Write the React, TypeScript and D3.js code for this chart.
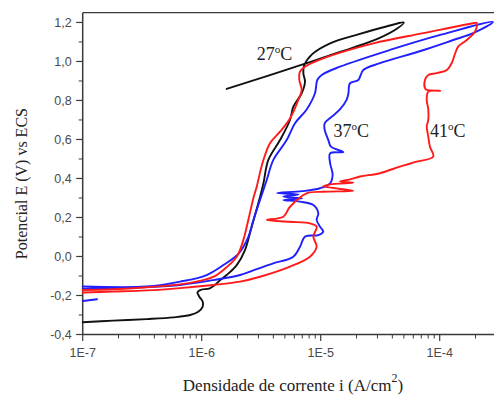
import React from "react";
import * as d3 from "d3";

const width = 494;
const height = 396;
const plot = { left: 82.7, top: 12.7, bottom: 334.5 };
const decadePx = 119;

// axis ticks
const xMajor = [1e-7, 1e-6, 1e-5, 1e-4];
const xLabels = ["1E-7", "1E-6", "1E-5", "1E-4"];
const yMajor = [-0.4, -0.2, 0, 0.2, 0.4, 0.6, 0.8, 1.0, 1.2];
const yLabels = ["-0,4", "-0,2", "0,0", "0,2", "0,4", "0,6", "0,8", "1,0", "1,2"];

// [i (A/cm2), E (V)]
const curve27: [number, number][] = [
  [1.0e-7, -0.337], [1.8e-7, -0.329], [3.45e-7, -0.321], [5.8e-7, -0.312],
  [8.0e-7, -0.3], [9.35e-7, -0.283], [1.02e-6, -0.257], [1.02e-6, -0.232],
  [9.55e-7, -0.206], [9.2e-7, -0.184], [9.7e-7, -0.172], [1.17e-6, -0.163],
  [1.29e-6, -0.146], [1.43e-6, -0.121], [1.62e-6, -0.095], [1.97e-6, -0.044],
  [2.31e-6, 0.033], [2.63e-6, 0.153], [2.99e-6, 0.273], [3.3e-6, 0.375],
  [3.63e-6, 0.495], [4.55e-6, 0.597], [5.52e-6, 0.7], [5.89e-6, 0.768],
  [6.92e-6, 0.837], [7.38e-6, 0.896], [7.15e-6, 0.939], [7.24e-6, 0.977],
  [8.4e-6, 1.035], [1.2e-5, 1.093], [2.1e-5, 1.14], [3.5e-5, 1.178],
  [5.0e-5, 1.2], [4.36e-5, 1.168], [3.1e-5, 1.12], [1.9e-5, 1.072],
  [1.16e-5, 1.029], [7.62e-6, 0.991], [1.62e-6, 0.859],
];

const curve37: [number, number][] = [
  [1.0e-7, -0.154], [3.45e-7, -0.154], [6.6e-7, -0.129], [1.1e-6, -0.095],
  [1.52e-6, -0.044], [2.05e-6, 0.016], [2.47e-6, 0.102], [2.72e-6, 0.187],
  [3.09e-6, 0.29], [3.52e-6, 0.392], [4.0e-6, 0.495], [5.18e-6, 0.597],
  [6.08e-6, 0.683], [7.62e-6, 0.754], [8.95e-6, 0.837], [9.36e-6, 0.905],
  [1.02e-5, 0.931], [1.45e-5, 0.973], [3.82e-5, 1.059], [1.01e-4, 1.136],
  [2.8e-4, 1.203], [1.91e-4, 1.145], [1.3e-4, 1.11], [7.0e-5, 1.055],
  [3.15e-5, 0.991], [2.28e-5, 0.956], [2.07e-5, 0.905], [1.76e-5, 0.888],
  [1.71e-5, 0.837], [1.65e-5, 0.803], [1.45e-5, 0.754], [1.24e-5, 0.717],
  [1.08e-5, 0.683], [1.08e-5, 0.65], [1.16e-5, 0.597], [1.22e-5, 0.563],
  [1.55e-5, 0.535], [1.2e-5, 0.529], [1.2e-5, 0.478], [1.26e-5, 0.42],
  [1.2e-5, 0.375], [9.86e-6, 0.35], [7.0e-6, 0.335], [4.3e-6, 0.325],
  [6.5e-6, 0.318], [4.85e-6, 0.307], [7.0e-6, 0.298], [4.85e-6, 0.29],
  [6.7e-6, 0.281], [8.67e-6, 0.264], [9.55e-6, 0.222], [9.25e-6, 0.187],
  [9.86e-6, 0.153], [1.05e-5, 0.127], [9.55e-6, 0.11], [7.4e-6, 0.102],
  [6.7e-6, 0.05], [5.89e-6, -0.001], [4.0e-6, -0.035], [2.9e-6, -0.065],
  [2.1e-6, -0.095], [1.25e-6, -0.121], [6.6e-7, -0.146], [3.45e-7, -0.157],
  [1.8e-7, -0.162], [1.0e-7, -0.166],
];

const curve37Tail: [number, number][] = [
  [1.0e-7, -0.228], [1.32e-7, -0.219],
];

const curve41: [number, number][] = [
  [1.0e-7, -0.172], [1.8e-7, -0.168], [3.45e-7, -0.158], [6.6e-7, -0.143],
  [1.03e-6, -0.121], [1.25e-6, -0.105], [1.52e-6, -0.069], [1.97e-6, -0.001],
  [2.24e-6, 0.085], [2.47e-6, 0.19], [2.72e-6, 0.3], [2.9e-6, 0.358],
  [3.09e-6, 0.43], [3.3e-6, 0.495], [3.75e-6, 0.581], [4.55e-6, 0.64],
  [5.52e-6, 0.708], [6.49e-6, 0.803], [6.92e-6, 0.854], [6.61e-6, 0.905],
  [6.7e-6, 0.948], [7.38e-6, 0.973], [1.05e-5, 1.016], [2.77e-5, 1.093],
  [7.28e-5, 1.145], [1.91e-4, 1.196], [2.05e-4, 1.198], [1.98e-4, 1.153],
  [1.69e-4, 1.11], [1.43e-4, 1.076], [1.35e-4, 1.042], [1.26e-4, 0.991],
  [1.15e-4, 0.956], [9.44e-5, 0.94], [8.02e-5, 0.931], [7.52e-5, 0.905],
  [7.52e-5, 0.863], [7.78e-5, 0.854], [1.01e-4, 0.85], [8.02e-5, 0.845],
  [7.78e-5, 0.803], [8.02e-5, 0.754], [8.02e-5, 0.7], [7.78e-5, 0.666],
  [8.02e-5, 0.614], [8.28e-5, 0.563], [8.83e-5, 0.512], [6.41e-5, 0.486],
  [4.63e-5, 0.461], [3.15e-5, 0.427], [2.14e-5, 0.41], [1.76e-5, 0.395],
  [1.45e-5, 0.385], [1.88e-5, 0.378], [1.2e-5, 0.37], [1.05e-5, 0.36],
  [1.88e-5, 0.337], [1.05e-5, 0.332], [7.62e-6, 0.324], [5.52e-6, 0.255],
  [4.85e-6, 0.204], [3.52e-6, 0.187], [5.52e-6, 0.178], [8.13e-6, 0.17],
  [9.25e-6, 0.153], [8.67e-6, 0.102], [9.25e-6, 0.05], [8.13e-6, -0.001],
  [5.52e-6, -0.052], [3.09e-6, -0.104], [2.1e-6, -0.129], [1.25e-6, -0.146],
  [6.6e-7, -0.162], [3.45e-7, -0.174], [1.8e-7, -0.18], [1.0e-7, -0.185],
];

// curve labels, placed in data units
const curveLabels = [
  { temp: "27", i: 2.9e-6, e: 1.008 },
  { temp: "37", i: 1.28e-5, e: 0.614 },
  { temp: "41", i: 8.28e-5, e: 0.613 },
];

const x = d3
  .scaleLog()
  .domain([1e-7, Math.pow(10, -3.4)])
  .range([plot.left, plot.left + decadePx * 3.6]);

const y = d3.scaleLinear().domain([-0.4, 1.25]).range([plot.bottom, plot.top]);

// centripetal catmull-rom keeps the recorded curves smooth without overshoot
const line = d3
  .line<[number, number]>()
  .x((d) => x(d[0]))
  .y((d) => y(d[1]))
  .curve(d3.curveCatmullRom.alpha(0.5));

const axisColor = "#3a3a3a";
const tickColor = "#4a4a4a";
const serif = "'Liberation Serif', 'Times New Roman', serif";
const sans = "'Liberation Sans', Arial, sans-serif";

const App = () => {
  const xMinor = x.ticks().filter((t) => !xMajor.some((m) => Math.abs(m - t) / m < 1e-6));
  const yMinor = d3.range(-4, 13).map((k) => k / 10).filter((v) => Math.round(v * 10) % 2 !== 0);
  const right = x.range()[1];

  return (
    <svg
      width={width}
      height={height}
      style={{ position: "absolute", left: 0, top: 0, background: "#fff" }}
    >
      {/* frame */}
      <line x1={plot.left} x2={right} y1={plot.top} y2={plot.top} stroke={axisColor} strokeWidth={1.3} />
      <line x1={plot.left} x2={right} y1={plot.bottom} y2={plot.bottom} stroke={axisColor} strokeWidth={1.5} />
      <line x1={plot.left} x2={plot.left} y1={plot.top} y2={plot.bottom} stroke={axisColor} strokeWidth={1.5} />

      {/* x ticks */}
      {xMajor.map((t, idx) => (
        <g key={`xm${idx}`}>
          <line x1={x(t)} x2={x(t)} y1={plot.bottom} y2={plot.bottom + 6.5} stroke={axisColor} strokeWidth={1.2} />
          <text x={x(t)} y={plot.bottom + 22} textAnchor="middle" fontFamily={sans} fontSize={12.5} fill={tickColor}>
            {xLabels[idx]}
          </text>
        </g>
      ))}
      {xMinor.map((t) => (
        <line key={`xn${t}`} x1={x(t)} x2={x(t)} y1={plot.bottom} y2={plot.bottom + 4} stroke={axisColor} strokeWidth={1} />
      ))}

      {/* y ticks */}
      {yMajor.map((t, idx) => (
        <g key={`ym${idx}`}>
          <line x1={plot.left - 6.5} x2={plot.left} y1={y(t)} y2={y(t)} stroke={axisColor} strokeWidth={1.2} />
          <text x={plot.left - 11} y={y(t) + 4.5} textAnchor="end" fontFamily={sans} fontSize={12.5} fill={tickColor}>
            {yLabels[idx]}
          </text>
        </g>
      ))}
      {yMinor.map((t) => (
        <line key={`yn${t}`} x1={plot.left - 4} x2={plot.left} y1={y(t)} y2={y(t)} stroke={axisColor} strokeWidth={1} />
      ))}

      {/* curves */}
      <g fill="none" strokeWidth={1.9} strokeLinejoin="round" strokeLinecap="round">
        <path d={line(curve27) ?? ""} stroke="#111" />
        <path d={line(curve37) ?? ""} stroke="#1f1fff" />
        <path d={line(curve37Tail) ?? ""} stroke="#1f1fff" />
        <path d={line(curve41) ?? ""} stroke="#ff1a1a" />
      </g>

      {/* curve labels */}
      {curveLabels.map((l) => (
        <text key={l.temp} x={x(l.i)} y={y(l.e)} fontFamily={serif} fontSize={18} fill="#222">
          {l.temp}
          <tspan dy={-7} fontSize={11}>o</tspan>
          <tspan dy={7}>C</tspan>
        </text>
      ))}

      {/* axis titles */}
      <text
        transform={`translate(27, ${(plot.top + plot.bottom) / 2 + 10}) rotate(-90)`}
        textAnchor="middle"
        fontFamily={serif}
        fontSize={16}
        fill="#222"
      >
        Potencial E (V) vs ECS
      </text>
      <text x={293} y={391} textAnchor="middle" fontFamily={serif} fontSize={17} fill="#222">
        Densidade de corrente i (A/cm
        <tspan dy={-9} fontSize={12}>2</tspan>
        <tspan dy={9}>)</tspan>
      </text>
    </svg>
  );
};

export default App;
